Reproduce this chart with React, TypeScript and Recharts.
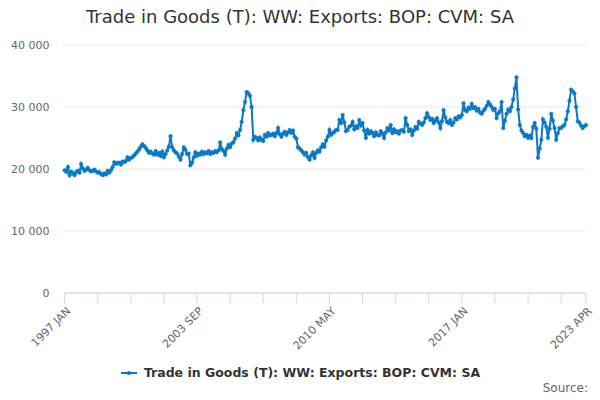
import React from 'react';
import {
  LineChart,
  Line,
  XAxis,
  YAxis,
  CartesianGrid,
} from 'recharts';

const FONT = '"DejaVu Sans", sans-serif';
const BLUE = '#0b78c2';
const SERIES_NAME = 'Trade in Goods (T): WW: Exports: BOP: CVM: SA';

const MONTHS = ['JAN', 'FEB', 'MAR', 'APR', 'MAY', 'JUN', 'JUL', 'AUG', 'SEP', 'OCT', 'NOV', 'DEC'];
const START_YEAR = 1997;

// monthly values, £ million, one row per year
const values1997_2001 = [
  19800, 19500, 20300, 19000, 19600, 19300, 19000, 19500, 19700, 19400, 20800, 20100,
  19700, 19900, 20200, 19800, 19600, 19700, 19900, 19600, 19400, 19500, 19200, 19000,
  19300, 19100, 19700, 19400, 19800, 20300, 21100, 20800, 21000, 21000, 20700, 21200,
  21100, 21300, 21900, 21500, 21800, 21900, 22200, 22500, 22800, 23200, 23600, 24000,
  23700, 23400, 23000, 22600, 22800, 22500, 22300, 22900, 22300, 22600, 22100, 22800,
];
const values2002_2006 = [
  21900, 22400, 23000, 23600, 25300, 23500, 23000, 22700, 22500, 22000, 21500, 22400,
  23500, 23100, 22400, 22500, 20600, 21000, 21900, 22700, 22100, 22500, 22300, 22800,
  22400, 22700, 22500, 22900, 22400, 22700, 22600, 22900, 22700, 23000, 24300, 23200,
  22900, 22300, 23300, 23900, 23500, 24100, 24300, 24900, 25800, 25400, 26300, 27600,
  29500, 30800, 32400, 32200, 31800, 30000, 24700, 25200, 25000, 24600, 25100, 24700,
];
const values2007_2011 = [
  24500, 25500, 25200, 25800, 25400, 25500, 25700, 25300, 25800, 26600, 25600, 25200,
  25700, 26000, 25500, 25900, 26300, 25800, 26200, 25200, 24900, 23500, 23300, 23000,
  22700, 22300, 22600, 21900, 21500, 22200, 22700, 21800, 22600, 23000, 22800, 23500,
  24000, 23600, 24600, 25200, 26300, 25500, 25800, 26000, 26300, 26300, 27900, 27400,
  28700, 27500, 26100, 26300, 26800, 27000, 27600, 26400, 26900, 26600, 27900, 27000,
];
const values2012_2016 = [
  27400, 26200, 25000, 26300, 25700, 26100, 25800, 25300, 25900, 25500, 25400, 26100,
  25700, 25000, 25900, 26600, 26200, 27100, 25800, 26400, 25900, 26100, 25700, 26200,
  26300, 26000, 28200, 27100, 26100, 26400, 25500, 26200, 26800, 26500, 27600, 27300,
  27100, 27500, 28200, 29000, 28400, 27900, 28100, 27400, 27800, 28200, 27500, 26600,
  27700, 29500, 28300, 27600, 27400, 27900, 27100, 27500, 28200, 28000, 28500, 28300,
];
const values2017_2023 = [
  28700, 30600, 29500, 29300, 29900, 29700, 30500, 29800, 30000, 29400, 29700, 29100,
  28900, 29400, 29700, 30200, 30800, 30400, 30000, 29500, 29700, 28200, 29000, 29300,
  30800, 26600, 27800, 28900, 29600, 29300, 30000, 31200, 33000, 34800, 29600, 27100,
  26200, 25800, 25300, 25500, 25000, 25400, 25000, 26800, 27400, 26500, 21800, 23300,
  24700, 28000, 27500, 26800, 25000, 26500, 28900, 27800, 26600, 24700, 25800, 26600,
  26600, 26900, 27100, 28000, 29300, 31000, 32800, 32500, 32200, 30000, 27700, 27500,
  27000, 26600, 26900, 27100,
];

const values = [
  ...values1997_2001,
  ...values2002_2006,
  ...values2007_2011,
  ...values2012_2016,
  ...values2017_2023,
];

const xTicks = [0, 20, 40, 60, 80, 100, 120, 140, 160, 180, 200, 220, 240, 260, 280, 300, 315];
const labelledTicks = [0, 80, 160, 240, 315];
const yTicks = [0, 10000, 20000, 30000, 40000];

const monthLabel = (i: number) =>
  `${START_YEAR + Math.floor(i / 12)} ${MONTHS[i % 12]}`;

const data = values.map((v, i) => ({ m: i, label: monthLabel(i), value: v }));

const fmtThousands = (v: number) =>
  String(v).replace(/\B(?=(\d{3})+(?!\d))/g, ' ');

const RotatedTick = (props: any) => {
  const { x, y, payload } = props;
  if (!labelledTicks.includes(payload.value)) return null;
  return (
    <g transform={`translate(${x + 4},${y + 4})`}>
      <text
        x={0}
        y={0}
        dy="0.35em"
        textAnchor="end"
        transform="rotate(-45)"
        fill="#666666"
        fontSize={11}
        fontFamily={FONT}
      >
        {monthLabel(payload.value)}
      </text>
    </g>
  );
};

export default function App() {
  return (
    <div
      style={{
        position: 'absolute',
        left: 0,
        top: 0,
        width: 600,
        height: 400,
        background: '#ffffff',
        fontFamily: FONT,
      }}
    >
      <div
        style={{
          position: 'absolute',
          top: 6,
          left: 0,
          width: 600,
          textAlign: 'center',
          fontSize: 18,
          color: '#333333',
        }}
      >
        {SERIES_NAME}
      </div>

      <LineChart
        width={600}
        height={400}
        data={data}
        margin={{ top: 45, right: 14, bottom: 47, left: 0 }}
      >
        <CartesianGrid vertical={false} stroke="#e6e6e6" />
        <XAxis
          dataKey="m"
          type="number"
          domain={[0, 315]}
          ticks={xTicks}
          interval={0}
          height={60}
          tick={<RotatedTick />}
          tickSize={10}
          tickLine={{ stroke: '#ccd6eb' }}
          axisLine={{ stroke: '#ccd6eb' }}
        />
        <YAxis
          width={64.6}
          domain={[0, 40000]}
          ticks={yTicks}
          tickFormatter={fmtThousands}
          axisLine={false}
          tickLine={false}
          tickSize={0}
          tickMargin={15}
          tick={{ fill: '#666666', fontSize: 11, fontFamily: FONT }}
        />
        <Line
          type="linear"
          dataKey="value"
          name={SERIES_NAME}
          stroke={BLUE}
          strokeWidth={2}
          dot={{ r: 1.8, fill: BLUE, stroke: BLUE, strokeWidth: 0.5 }}
          activeDot={false}
          isAnimationActive={false}
        />
      </LineChart>

      <div
        style={{
          position: 'absolute',
          top: 365,
          left: 0,
          width: 600,
          display: 'flex',
          justifyContent: 'center',
          alignItems: 'center',
          fontSize: 12.5,
          fontWeight: 'bold',
          color: '#333333',
        }}
      >
        <svg width={20} height={10} style={{ marginRight: 4 }}>
          <line x1={1} y1={5} x2={17} y2={5} stroke={BLUE} strokeWidth={2} />
          <circle cx={9} cy={5} r={2} fill={BLUE} />
        </svg>
        <span>{SERIES_NAME}</span>
      </div>

      <div
        style={{
          position: 'absolute',
          top: 381,
          right: 12,
          fontSize: 12,
          color: '#666666',
        }}
      >
        Source:
      </div>
    </div>
  );
}
